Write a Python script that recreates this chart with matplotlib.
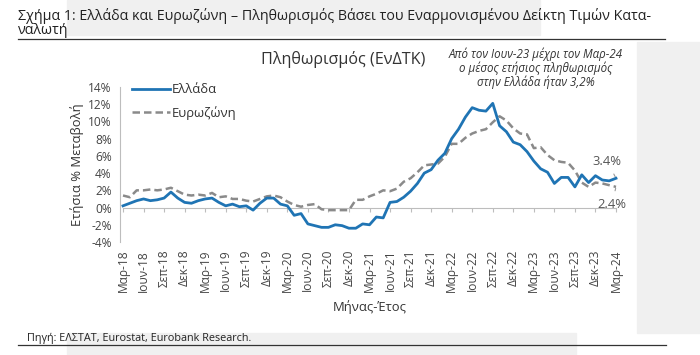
import matplotlib
matplotlib.use('Agg')
import matplotlib.pyplot as plt
from matplotlib.patches import Rectangle
from matplotlib.lines import Line2D
import matplotlib.transforms as mtransforms

plt.rcParams['font.family'] = ['Open Sans', 'DejaVu Sans']

# monthly annual HICP change, Mar-18 .. Mar-24
greece = [0.2, 0.5, 0.8, 1.0, 0.8, 0.9, 1.1, 1.8, 1.1, 0.6,
          0.5, 0.8, 1.0, 1.1, 0.6, 0.2, 0.4, 0.1, 0.2, -0.3, 0.5, 1.1,
          1.1, 0.4, 0.2, -0.9, -0.7, -1.9, -2.1, -2.3, -2.3, -2.0, -2.1, -2.4,
          -2.4, -1.9, -2.0, -1.1, -1.2, 0.6, 0.7, 1.2, 1.9, 2.8, 4.0, 4.4,
          5.5, 6.3, 8.0, 9.1, 10.5, 11.6, 11.3, 11.2, 12.1, 9.5, 8.8, 7.6,
          7.3, 6.5, 5.4, 4.5, 4.1, 2.8, 3.5, 3.5, 2.4, 3.8, 2.9, 3.7,
          3.2, 3.1, 3.4]
eurozone = [1.4, 1.2, 2.0, 2.0, 2.1, 2.0, 2.1, 2.3, 1.9, 1.5,
            1.4, 1.5, 1.4, 1.7, 1.2, 1.3, 1.0, 1.0, 0.8, 0.7, 1.0, 1.3,
            1.4, 1.2, 0.7, 0.3, 0.1, 0.3, 0.4, -0.2, -0.3, -0.3, -0.3, -0.3,
            0.9, 0.9, 1.3, 1.6, 2.0, 1.9, 2.2, 3.0, 3.4, 4.1, 4.9, 5.0,
            5.1, 5.9, 7.4, 7.4, 8.1, 8.6, 8.9, 9.1, 9.9, 10.6, 10.1, 9.2,
            8.6, 8.5, 6.9, 7.0, 6.1, 5.5, 5.3, 5.2, 4.3, 2.9, 2.4, 2.9,
            2.8, 2.6, 2.4]
quarter_months = ['Μαρ', 'Ιουν', 'Σεπ', 'Δεκ']
years = ['18', '19', '20', '21', '22', '23', '24']
tick_labels = [m + '-' + y for y in years for m in quarter_months][:25]
yticks = [-4, -2, 0, 2, 4, 6, 8, 10, 12, 14]

W, H = 700, 355
fig = plt.figure(figsize=(W / 100, H / 100), dpi=100)
fig.patch.set_facecolor('white')

def fx(px):
    return px / W

def fy(py):
    return 1 - py / H

# screenshot background patches
for x0, y0, x1, y1 in [(67, 0, 540, 35), (637, 42, 700, 333), (67, 333, 576, 355)]:
    fig.patches.append(Rectangle((fx(x0), fy(y1)), fx(x1) - fx(x0), fy(y0) - fy(y1),
                                 transform=fig.transFigure, color='#f0f0f0', zorder=0))

# header and footer
fig.text(fx(18), fy(23), 'Σχήμα 1: Ελλάδα και Ευρωζώνη – Πληθωρισμός Βάσει του Εναρμονισμένου Δείκτη Τιμών Κατα-\nναλωτή',
         fontsize=10.3, color='#222222', va='center', linespacing=0.98)
fig.add_artist(Line2D([fx(18), fx(665)], [fy(39), fy(39)], transform=fig.transFigure,
                      color='#333333', lw=0.9))
fig.text(fx(27), fy(338), 'Πηγή: ΕΛΣΤΑΤ, Eurostat, Eurobank Research.', fontsize=7.8,
         color='#222222', va='center')
fig.add_artist(Line2D([fx(18), fx(666)], [fy(345), fy(345)], transform=fig.transFigure,
                      color='#333333', lw=0.9))

# axes: Mar-18 at 123px, Mar-24 at 616px
ppm = (616 - 123) / 72
ax_l, ax_r, ax_t, ax_b = 120, 628, 87, 242
ax = fig.add_axes([fx(ax_l), fy(ax_b), fx(ax_r) - fx(ax_l), fy(ax_t) - fy(ax_b)])
ax.set_facecolor('none')
ax.set_xlim(-(123 - ax_l) / ppm, (ax_r - 123) / ppm)
ax.set_ylim(-4, 14)

x = list(range(len(greece)))
ax.plot(x, eurozone, color='#8a8a8a', lw=1.8, ls=(0, (3, 1.6)), label='Ευρωζώνη', zorder=3)
ax.plot(x, greece, color='#1f74b4', lw=2.0, label='Ελλάδα', zorder=4)

for s in ['top', 'right']:
    ax.spines[s].set_visible(False)
ax.spines['left'].set_color('#bdbdbd')
ax.spines['bottom'].set_position(('data', 0))
ax.spines['bottom'].set_color('#bdbdbd')
ax.spines['bottom'].set_bounds(0, 72)

ax.set_yticks(yticks)
ax.set_yticklabels([f'{v}%' for v in yticks])
ax.tick_params(axis='y', length=0, labelsize=8.6, labelcolor='#444444', pad=6)
ax.set_xticks(range(0, 73, 3))
ax.tick_params(axis='x', direction='out', length=3, color='#bdbdbd', labelbottom=False)

trans = mtransforms.blended_transform_factory(ax.transData, ax.transAxes)
for i, lab in enumerate(tick_labels):
    ax.text(i * 3, -0.05, lab, transform=trans, rotation=90, ha='center', va='top',
            fontsize=8.6, color='#444444')

fig.text(fx(370), fy(307), 'Μήνας-Έτος', fontsize=9.4, color='#333333', ha='center', va='center')
fig.text(fx(77), fy(165), 'Ετήσια % Μεταβολή', fontsize=9.4, color='#333333', ha='center',
         va='center', rotation=90)

leg = ax.legend(handles=ax.get_lines()[::-1], loc='upper left', bbox_to_anchor=(0.024, 1.025),
                frameon=False, fontsize=9.4, handlelength=2.9, handletextpad=0.15,
                labelspacing=0.75, borderpad=0, borderaxespad=0, labelcolor='#333333')

fig.text(fx(343), fy(59), 'Πληθωρισμός (ΕνΔΤΚ)', fontsize=11.6, color='#333333',
         ha='center', va='center')
fig.text(fx(536), fy(68), 'Από τον Ιουν-23 μέχρι τον Μαρ-24\nο μέσος ετήσιος πληθωρισμός\nστην Ελλάδα ήταν 3,2%',
         fontsize=8.3, style='italic', color='#333333', ha='center', va='center', linespacing=1.05)

last = len(greece) - 1
ax.annotate(f'{greece[-1]:.1f}%', xy=(last, greece[-1]), xytext=(last - 1.3, greece[-1] + 2.0),
            ha='center', va='center', fontsize=9.4, color='#555555',
            arrowprops=dict(arrowstyle='-', color='#999999', lw=0.8, shrinkA=3, shrinkB=1),
            annotation_clip=False)
ax.annotate(f'{eurozone[-1]:.1f}%', xy=(last, eurozone[-1]), xytext=(last - 0.6, eurozone[-1] - 2.0),
            ha='center', va='center', fontsize=9.4, color='#555555',
            arrowprops=dict(arrowstyle='-', color='#999999', lw=0.8, shrinkA=3, shrinkB=1),
            annotation_clip=False)

fig.savefig('out.png', dpi=100)
